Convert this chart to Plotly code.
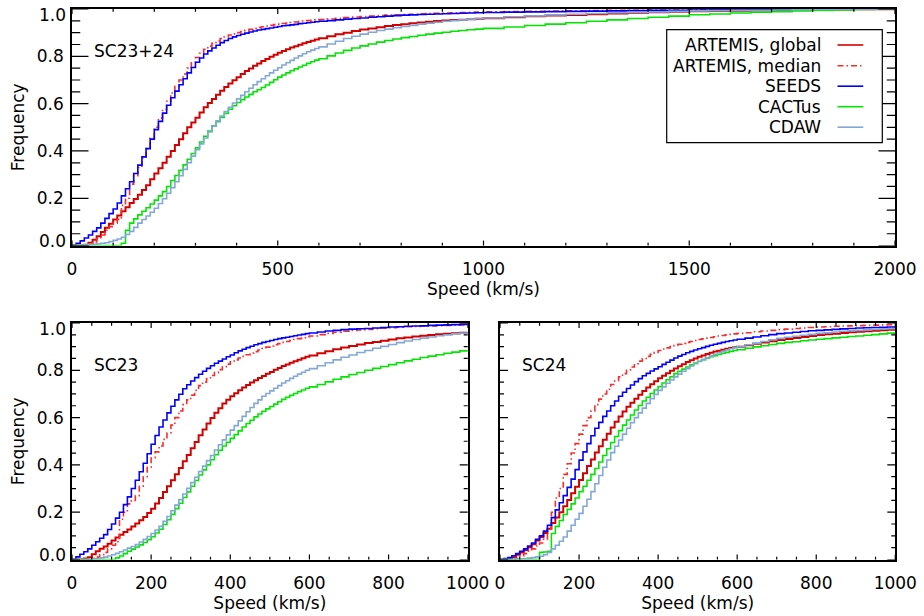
import plotly.graph_objects as go

# ---------------- data ----------------
# speed grid: 10 km/s bins up to 590, 20 km/s bins from 600 to 1000, 50 km/s beyond
SPEED_FINE = list(range(0, 600, 10))
SPEED_MID = list(range(600, 1001, 20))
SPEED_TAIL = list(range(1050, 2001, 50))
SPEED_BOT = SPEED_FINE + SPEED_MID
SPEED_TOP = SPEED_BOT + SPEED_TAIL

SERIES = ["ARTEMIS, global", "ARTEMIS, median", "SEEDS", "CACTus", "CDAW"]

# ---- SC23+24 ----
top_global = [
    0.0, 0.0, 0.0, 0.004, 0.012, 0.025, 0.04, 0.057, 0.075, 0.092,
    0.11, 0.127, 0.145, 0.162, 0.18, 0.197, 0.215, 0.235, 0.255, 0.28,
    0.305, 0.327, 0.35, 0.375, 0.4, 0.425, 0.45, 0.475, 0.5, 0.52,
    0.54, 0.563, 0.585, 0.603, 0.62, 0.638, 0.655, 0.67, 0.685, 0.699,
    0.712, 0.725, 0.738, 0.749, 0.76, 0.77, 0.78, 0.789, 0.798, 0.807,
    0.815, 0.823, 0.83, 0.837, 0.843, 0.849, 0.855, 0.861, 0.866, 0.871,
    0.876, 0.885, 0.893, 0.9, 0.907, 0.913, 0.918, 0.923, 0.928, 0.932, 0.936,
    0.94, 0.943, 0.946, 0.949, 0.951, 0.953, 0.955, 0.957, 0.959, 0.961,
    0.965, 0.969, 0.972, 0.975, 0.978, 0.981, 0.984, 0.986, 0.988, 0.99,
    0.992, 0.993, 0.994, 0.995, 0.996, 0.997, 0.998, 0.999, 0.999, 1.0]
top_median = [
    0.0, 0.0, 0.0, 0.0, 0.005, 0.015, 0.03, 0.045, 0.065, 0.08,
    0.095, 0.11, 0.17, 0.2, 0.26, 0.295, 0.33, 0.37, 0.41, 0.455,
    0.5, 0.538, 0.575, 0.61, 0.645, 0.673, 0.7, 0.725, 0.75, 0.773,
    0.795, 0.813, 0.83, 0.843, 0.855, 0.865, 0.875, 0.883, 0.89, 0.895,
    0.9, 0.905, 0.91, 0.914, 0.918, 0.922, 0.925, 0.928, 0.931, 0.934,
    0.936, 0.939, 0.941, 0.943, 0.945, 0.947, 0.949, 0.951, 0.952, 0.954,
    0.955, 0.958, 0.961, 0.964, 0.966, 0.968, 0.97, 0.972, 0.974, 0.976, 0.977,
    0.978, 0.98, 0.981, 0.982, 0.983, 0.984, 0.985, 0.986, 0.987, 0.988,
    0.989, 0.99, 0.991, 0.992, 0.993, 0.994, 0.995, 0.996, 0.996, 0.997,
    0.997, 0.998, 0.998, 0.999, 0.999, 0.999, 1.0, 1.0, 1.0, 1.0]
top_seeds = [
    0.0, 0.01, 0.02, 0.032, 0.045, 0.06, 0.075, 0.095, 0.115, 0.135,
    0.155, 0.18, 0.21, 0.24, 0.27, 0.305, 0.34, 0.375, 0.41, 0.45,
    0.49, 0.525, 0.56, 0.593, 0.625, 0.653, 0.68, 0.705, 0.73, 0.753,
    0.775, 0.793, 0.81, 0.823, 0.835, 0.847, 0.858, 0.867, 0.875, 0.882,
    0.888, 0.893, 0.898, 0.903, 0.907, 0.911, 0.914, 0.917, 0.92, 0.923,
    0.926, 0.929, 0.931, 0.933, 0.935, 0.938, 0.94, 0.942, 0.944, 0.946,
    0.948, 0.951, 0.954, 0.957, 0.96, 0.962, 0.965, 0.967, 0.97, 0.972, 0.974,
    0.975, 0.977, 0.978, 0.979, 0.98, 0.981, 0.982, 0.983, 0.984, 0.985,
    0.987, 0.988, 0.989, 0.99, 0.991, 0.992, 0.993, 0.994, 0.995, 0.996,
    0.997, 0.997, 0.998, 0.998, 0.999, 0.999, 0.999, 1.0, 1.0, 1.0]
top_cactus = [
    0.0, 0.0, 0.0, 0.0, 0.0, 0.0, 0.0, 0.0, 0.0, 0.0,
    0.0, 0.0, 0.01, 0.065, 0.095, 0.113, 0.13, 0.145, 0.16, 0.176,
    0.192, 0.21, 0.228, 0.25, 0.275, 0.296, 0.318, 0.341, 0.365, 0.389,
    0.413, 0.438, 0.462, 0.484, 0.506, 0.524, 0.542, 0.559, 0.576, 0.591,
    0.605, 0.617, 0.628, 0.639, 0.65, 0.659, 0.668, 0.679, 0.69, 0.701,
    0.712, 0.721, 0.73, 0.739, 0.747, 0.755, 0.762, 0.77, 0.777, 0.784,
    0.79, 0.802, 0.814, 0.825, 0.835, 0.844, 0.852, 0.86, 0.867, 0.873, 0.879,
    0.884, 0.889, 0.894, 0.898, 0.902, 0.906, 0.909, 0.912, 0.915, 0.918,
    0.924, 0.93, 0.936, 0.942, 0.948, 0.954, 0.96, 0.965, 0.97, 0.976,
    0.979, 0.983, 0.986, 0.989, 0.992, 0.994, 0.996, 0.998, 1.0, 1.0]
top_cdaw = [
    0.0, 0.001, 0.002, 0.003, 0.005, 0.006, 0.008, 0.01, 0.012, 0.017,
    0.022, 0.028, 0.035, 0.047, 0.06, 0.077, 0.095, 0.11, 0.125, 0.141,
    0.158, 0.178, 0.198, 0.221, 0.245, 0.27, 0.295, 0.322, 0.35, 0.378,
    0.405, 0.43, 0.455, 0.48, 0.505, 0.527, 0.548, 0.567, 0.585, 0.603,
    0.62, 0.635, 0.65, 0.665, 0.68, 0.693, 0.705, 0.718, 0.73, 0.741,
    0.752, 0.763, 0.773, 0.783, 0.793, 0.802, 0.811, 0.819, 0.826, 0.833,
    0.84, 0.852, 0.864, 0.875, 0.885, 0.894, 0.902, 0.909, 0.915, 0.921, 0.926,
    0.931, 0.936, 0.94, 0.944, 0.948, 0.951, 0.954, 0.957, 0.96, 0.962,
    0.967, 0.971, 0.975, 0.978, 0.981, 0.984, 0.986, 0.988, 0.99, 0.992,
    0.993, 0.994, 0.995, 0.996, 0.997, 0.998, 0.999, 0.999, 1.0, 1.0]

# ---- SC23 ----
sc23_global = [
    0.0, 0.0, 0.0, 0.004, 0.01, 0.022, 0.035, 0.045, 0.055, 0.067,
    0.08, 0.093, 0.105, 0.116, 0.127, 0.14, 0.152, 0.166, 0.18, 0.197,
    0.215, 0.237, 0.26, 0.285, 0.31, 0.335, 0.36, 0.387, 0.415, 0.442,
    0.47, 0.497, 0.525, 0.55, 0.575, 0.598, 0.62, 0.64, 0.66, 0.676,
    0.69, 0.703, 0.716, 0.727, 0.738, 0.748, 0.758, 0.767, 0.776, 0.785,
    0.793, 0.802, 0.81, 0.818, 0.825, 0.832, 0.838, 0.845, 0.851, 0.857,
    0.863, 0.872, 0.881, 0.889, 0.896, 0.903, 0.909, 0.915, 0.92, 0.925, 0.93,
    0.935, 0.939, 0.943, 0.946, 0.949, 0.952, 0.955, 0.957, 0.959, 0.961]
sc23_median = [
    0.0, 0.0, 0.0, 0.0, 0.0, 0.005, 0.01, 0.02, 0.03, 0.045,
    0.06, 0.075, 0.17, 0.2, 0.235, 0.25, 0.27, 0.31, 0.35, 0.39,
    0.43, 0.455, 0.48, 0.508, 0.535, 0.568, 0.6, 0.628, 0.655, 0.675,
    0.695, 0.715, 0.735, 0.75, 0.765, 0.778, 0.79, 0.803, 0.815, 0.826,
    0.836, 0.844, 0.852, 0.859, 0.866, 0.873, 0.879, 0.886, 0.892, 0.898,
    0.903, 0.908, 0.913, 0.918, 0.922, 0.926, 0.93, 0.934, 0.938, 0.942,
    0.945, 0.951, 0.956, 0.961, 0.965, 0.968, 0.971, 0.973, 0.976, 0.978, 0.98,
    0.982, 0.984, 0.985, 0.987, 0.988, 0.989, 0.99, 0.991, 0.992, 0.993]
sc23_seeds = [
    0.0, 0.011, 0.022, 0.033, 0.045, 0.06, 0.075, 0.09, 0.105, 0.127,
    0.15, 0.175, 0.2, 0.232, 0.265, 0.3, 0.335, 0.371, 0.407, 0.447,
    0.487, 0.524, 0.56, 0.59, 0.62, 0.648, 0.675, 0.699, 0.722, 0.739,
    0.755, 0.769, 0.783, 0.796, 0.808, 0.819, 0.83, 0.839, 0.848, 0.857,
    0.865, 0.874, 0.882, 0.889, 0.896, 0.902, 0.908, 0.913, 0.918, 0.922,
    0.926, 0.93, 0.934, 0.937, 0.94, 0.943, 0.946, 0.949, 0.952, 0.955,
    0.958, 0.962, 0.966, 0.969, 0.972, 0.974, 0.976, 0.977, 0.979, 0.981, 0.983,
    0.984, 0.986, 0.987, 0.988, 0.99, 0.991, 0.992, 0.993, 0.994, 0.995]
sc23_cactus = [
    0.0, 0.0, 0.0, 0.0, 0.0, 0.0, 0.0, 0.0, 0.0, 0.0,
    0.0, 0.007, 0.015, 0.025, 0.035, 0.044, 0.053, 0.062, 0.072, 0.084,
    0.096, 0.112, 0.128, 0.148, 0.168, 0.191, 0.215, 0.238, 0.262, 0.286,
    0.31, 0.334, 0.357, 0.379, 0.4, 0.422, 0.443, 0.462, 0.48, 0.496,
    0.512, 0.528, 0.544, 0.56, 0.575, 0.589, 0.603, 0.615, 0.627, 0.637,
    0.647, 0.657, 0.667, 0.677, 0.686, 0.694, 0.702, 0.71, 0.717, 0.724,
    0.73, 0.74, 0.751, 0.762, 0.772, 0.782, 0.791, 0.8, 0.808, 0.816, 0.824,
    0.832, 0.84, 0.847, 0.854, 0.86, 0.866, 0.872, 0.877, 0.882, 0.887]
sc23_cdaw = [
    0.0, 0.0, 0.0, 0.001, 0.002, 0.003, 0.004, 0.007, 0.01, 0.015,
    0.02, 0.026, 0.033, 0.04, 0.048, 0.055, 0.063, 0.074, 0.085, 0.097,
    0.11, 0.125, 0.14, 0.161, 0.182, 0.206, 0.23, 0.253, 0.277, 0.301,
    0.325, 0.348, 0.372, 0.395, 0.418, 0.44, 0.463, 0.485, 0.506, 0.527,
    0.547, 0.566, 0.586, 0.605, 0.625, 0.643, 0.66, 0.675, 0.69, 0.702,
    0.713, 0.724, 0.735, 0.746, 0.756, 0.766, 0.775, 0.784, 0.792, 0.8,
    0.807, 0.819, 0.832, 0.844, 0.855, 0.865, 0.875, 0.884, 0.893, 0.901, 0.909,
    0.917, 0.924, 0.93, 0.936, 0.941, 0.946, 0.95, 0.954, 0.957, 0.96]

# ---- SC24 ----
sc24_global = [
    0.0, 0.001, 0.003, 0.01, 0.02, 0.03, 0.04, 0.052, 0.065, 0.08,
    0.095, 0.112, 0.13, 0.154, 0.178, 0.2, 0.225, 0.252, 0.28, 0.308,
    0.336, 0.365, 0.395, 0.423, 0.452, 0.479, 0.506, 0.532, 0.558, 0.582,
    0.605, 0.626, 0.646, 0.663, 0.68, 0.697, 0.713, 0.727, 0.741, 0.754,
    0.766, 0.777, 0.788, 0.798, 0.808, 0.817, 0.826, 0.835, 0.843, 0.85,
    0.857, 0.863, 0.869, 0.874, 0.879, 0.883, 0.887, 0.891, 0.894, 0.897,
    0.9, 0.906, 0.912, 0.918, 0.923, 0.928, 0.932, 0.937, 0.941, 0.945, 0.949,
    0.952, 0.955, 0.958, 0.961, 0.963, 0.965, 0.967, 0.969, 0.971, 0.973]
sc24_median = [
    0.0, 0.0, 0.0, 0.0, 0.005, 0.015, 0.025, 0.035, 0.045, 0.057,
    0.07, 0.085, 0.13, 0.2, 0.26, 0.3, 0.36, 0.405, 0.45, 0.49,
    0.53, 0.566, 0.6, 0.628, 0.655, 0.678, 0.7, 0.72, 0.74, 0.756,
    0.772, 0.786, 0.8, 0.814, 0.828, 0.839, 0.85, 0.859, 0.868, 0.876,
    0.884, 0.89, 0.895, 0.9, 0.905, 0.91, 0.914, 0.918, 0.922, 0.926,
    0.93, 0.933, 0.936, 0.939, 0.942, 0.945, 0.947, 0.95, 0.952, 0.954,
    0.956, 0.959, 0.963, 0.966, 0.969, 0.972, 0.974, 0.977, 0.979, 0.981, 0.983,
    0.984, 0.986, 0.987, 0.988, 0.989, 0.99, 0.991, 0.992, 0.993, 0.993]
sc24_seeds = [
    0.0, 0.004, 0.008, 0.016, 0.025, 0.035, 0.045, 0.057, 0.07, 0.085,
    0.1, 0.12, 0.145, 0.177, 0.21, 0.24, 0.27, 0.305, 0.34, 0.38,
    0.42, 0.455, 0.49, 0.523, 0.555, 0.58, 0.605, 0.628, 0.65, 0.67,
    0.69, 0.707, 0.723, 0.738, 0.752, 0.765, 0.777, 0.787, 0.797, 0.806,
    0.815, 0.825, 0.834, 0.843, 0.852, 0.86, 0.867, 0.874, 0.88, 0.886,
    0.891, 0.896, 0.901, 0.906, 0.91, 0.914, 0.918, 0.922, 0.925, 0.928,
    0.931, 0.936, 0.941, 0.946, 0.951, 0.955, 0.958, 0.961, 0.964, 0.967, 0.969,
    0.971, 0.973, 0.975, 0.977, 0.979, 0.98, 0.981, 0.982, 0.983, 0.984]
sc24_cactus = [
    0.0, 0.0, 0.0, 0.0, 0.0, 0.0, 0.0, 0.0, 0.0, 0.0,
    0.03, 0.032, 0.035, 0.11, 0.14, 0.165, 0.19, 0.212, 0.235, 0.26,
    0.287, 0.31, 0.335, 0.36, 0.385, 0.412, 0.44, 0.468, 0.495, 0.52,
    0.545, 0.568, 0.59, 0.611, 0.632, 0.651, 0.67, 0.686, 0.702, 0.717,
    0.731, 0.746, 0.76, 0.773, 0.786, 0.796, 0.805, 0.814, 0.823, 0.831,
    0.838, 0.845, 0.851, 0.857, 0.862, 0.867, 0.872, 0.876, 0.88, 0.884,
    0.887, 0.893, 0.899, 0.904, 0.909, 0.914, 0.918, 0.921, 0.925, 0.928, 0.931,
    0.934, 0.937, 0.94, 0.943, 0.945, 0.948, 0.951, 0.954, 0.957, 0.959]
sc24_cdaw = [
    0.0, 0.0, 0.0, 0.001, 0.002, 0.003, 0.004, 0.006, 0.008, 0.011,
    0.014, 0.02, 0.03, 0.045, 0.06, 0.077, 0.095, 0.12, 0.145, 0.17,
    0.195, 0.225, 0.255, 0.287, 0.32, 0.355, 0.39, 0.421, 0.452, 0.479,
    0.505, 0.53, 0.555, 0.578, 0.6, 0.62, 0.64, 0.66, 0.68, 0.698,
    0.715, 0.73, 0.745, 0.759, 0.772, 0.784, 0.796, 0.807, 0.818, 0.828,
    0.837, 0.845, 0.853, 0.861, 0.868, 0.874, 0.88, 0.886, 0.891, 0.896,
    0.9, 0.908, 0.915, 0.922, 0.929, 0.935, 0.94, 0.944, 0.948, 0.952, 0.956,
    0.959, 0.962, 0.965, 0.967, 0.969, 0.971, 0.973, 0.975, 0.976, 0.977]

PANEL_LABELS = ["SC23+24", "SC23", "SC24"]
TOP_XTICKS = [0, 500, 1000, 1500, 2000]
TOP_XMINOR = list(range(0, 2001, 100))
BOTTOM_XTICKS = [0, 200, 400, 600, 800, 1000]
BOTTOM_XMINOR = list(range(0, 1001, 50))
YTICKS = [0.0, 0.2, 0.4, 0.6, 0.8, 1.0]
YTICKTEXT = ["", "0.2", "0.4", "0.6", "0.8", ""]   # end labels placed separately (nudged inward)
YMINOR = [i / 20 for i in range(21)]

# ---------------- styles ----------------
STYLES = {
    "ARTEMIS, global": dict(color="#d40000", width=2.0, dash="solid"),
    "ARTEMIS, median": dict(color="#ff2a2a", width=1.6, dash="6px,3px,1.5px,3px"),
    "SEEDS": dict(color="#0000ff", width=1.6, dash="solid"),
    "CACTus": dict(color="#00e600", width=1.6, dash="solid"),
    "CDAW": dict(color="#82a8d8", width=1.6, dash="solid"),
}
FONT = "DejaVu Sans"
FS = 17

panels = [
    (SPEED_TOP, [top_global, top_median, top_seeds, top_cactus, top_cdaw], "x", "y"),
    (SPEED_BOT, [sc23_global, sc23_median, sc23_seeds, sc23_cactus, sc23_cdaw], "x2", "y2"),
    (SPEED_BOT, [sc24_global, sc24_median, sc24_seeds, sc24_cactus, sc24_cdaw], "x3", "y3"),
]

fig = go.Figure()
for speeds, series_vals, xa, ya in panels:
    for name, vals in zip(SERIES, series_vals):
        st = STYLES[name]
        fig.add_trace(go.Scatter(
            x=speeds, y=vals, mode="lines", name=name, showlegend=False,
            line=dict(color=st["color"], width=st["width"], dash=st["dash"], shape="hv"),
            xaxis=xa, yaxis=ya, hoverinfo="skip"))

W, H = 924, 616
def px(x):
    return x / W
def py(y):
    return 1 - y / H

dom = {
    "top": ([px(72), px(895)], [py(245.6), py(9)]),
    "bl": ([px(72), px(467.7)], [py(559.5), py(323)]),
    "br": ([px(500), px(895.3)], [py(559.5), py(323)]),
}

def xaxis(domain, anchor, ticks, rng):
    return dict(domain=domain, anchor=anchor, range=rng, automargin=False,
                tickmode="array", tickvals=ticks, ticks="",
                mirror=True, showline=True, linecolor="black", linewidth=1.5,
                showgrid=False, zeroline=False, ticklabelstandoff=7,
                ticklabeloverflow="allow",
                tickfont=dict(family=FONT, size=FS, color="black"),
                title=dict(text="Speed (km/s)", standoff=4,
                           font=dict(family=FONT, size=FS, color="black")))

def yaxis(domain, anchor, show_labels, title):
    d = dict(domain=domain, anchor=anchor, range=[0, 1.0], automargin=False,
             tickmode="array", tickvals=YTICKS, ticktext=YTICKTEXT, ticks="",
             mirror=True, showline=True, linecolor="black", linewidth=1.5,
             showgrid=False, zeroline=False, showticklabels=show_labels,
             ticklabelstandoff=3, ticklabeloverflow="allow",
             tickfont=dict(family=FONT, size=FS, color="black"))
    if title:
        d["title"] = dict(text="Frequency", standoff=8,
                          font=dict(family=FONT, size=FS, color="black"))
    return d

fig.update_layout(
    template="none",
    width=W, height=H, margin=dict(l=0, r=0, t=0, b=0, autoexpand=False),
    paper_bgcolor="white", plot_bgcolor="white",
    font=dict(family=FONT, size=FS, color="black"),
    xaxis=xaxis(dom["top"][0], "y", TOP_XTICKS, [0, 2000]),
    yaxis=yaxis(dom["top"][1], "x", True, True),
    xaxis2=xaxis(dom["bl"][0], "y2", BOTTOM_XTICKS, [0, 1000]),
    yaxis2=yaxis(dom["bl"][1], "x2", True, True),
    xaxis3=xaxis(dom["br"][0], "y3", BOTTOM_XTICKS, [0, 1000]),
    yaxis3=yaxis(dom["br"][1], "x3", False, False),
    showlegend=False,
)

# end labels of the y axes (0.0 and 1.0), nudged inward as in the original
for ya in ("y", "y2"):
    for val, text, shift in ((1.0, "1.0", -6), (0.0, "0.0", 5)):
        fig.add_annotation(text=text, x=0, xref="x" + ya[1:] + " domain", y=val, yref=ya,
                           xanchor="right", yanchor="middle", xshift=-4, yshift=shift,
                           showarrow=False, font=dict(family=FONT, size=FS, color="black"))

# inward tick marks on all four sides (pixel-sized shapes placed at axis values)
def add_ticks(xa, ya, xmajor, xminor, ymajor_len, xmajor_len=5.0):
    tick_line = dict(color="black", width=1.2)
    for v in xminor:
        ln = xmajor_len if v in xmajor else xmajor_len * 0.55
        for anchor, sign in ((0, 1), (1, -1)):
            fig.add_shape(type="line", xref=xa, yref=ya + " domain",
                          ysizemode="pixel", yanchor=anchor,
                          x0=v, x1=v, y0=0, y1=sign * ln, line=tick_line)
    for v in YMINOR:
        ln = ymajor_len if any(abs(v - m) < 1e-9 for m in YTICKS) else ymajor_len / 2
        for anchor, sign in ((0, 1), (1, -1)):
            fig.add_shape(type="line", xref=xa + " domain", yref=ya,
                          xsizemode="pixel", xanchor=anchor,
                          x0=0, x1=sign * ln, y0=v, y1=v, line=tick_line)

add_ticks("x", "y", TOP_XTICKS, TOP_XMINOR, 16.5)
add_ticks("x2", "y2", BOTTOM_XTICKS, BOTTOM_XMINOR, 8.0)
add_ticks("x3", "y3", BOTTOM_XTICKS, BOTTOM_XMINOR, 8.0)

# panel labels
for label, (xp, yp) in zip(PANEL_LABELS, [(92, 51.5), (92, 365), (520, 365)]):
    fig.add_annotation(text=label, x=px(xp), y=py(yp), xref="paper", yref="paper",
                       xanchor="left", yanchor="middle", showarrow=False,
                       font=dict(family=FONT, size=FS, color="black"))

# custom legend (text to the left of the line sample, right aligned)
fig.add_shape(type="rect", xref="paper", yref="paper",
              x0=px(666.7), x1=px(882.3), y0=py(142.7), y1=py(29.7),
              line=dict(color="black", width=1.2), fillcolor="white", layer="above")
row_y = [45, 65.7, 86.2, 106.7, 127.2]
for name, yy in zip(SERIES, row_y):
    st = STYLES[name]
    fig.add_annotation(text=name, x=px(822.7), y=py(yy), xref="paper", yref="paper",
                       xanchor="right", yanchor="middle", showarrow=False,
                       font=dict(family=FONT, size=FS, color="black"))
    fig.add_shape(type="line", xref="paper", yref="paper",
                  x0=px(837.5), x1=px(863.3), y0=py(yy), y1=py(yy),
                  line=dict(color=st["color"], width=1.6, dash=st["dash"]), layer="above")

fig.write_html("out.html", config={"displayModeBar": False},
               post_script="document.body.style.margin='0';document.body.style.padding='0';"
                           "document.body.style.overflow='hidden';")
